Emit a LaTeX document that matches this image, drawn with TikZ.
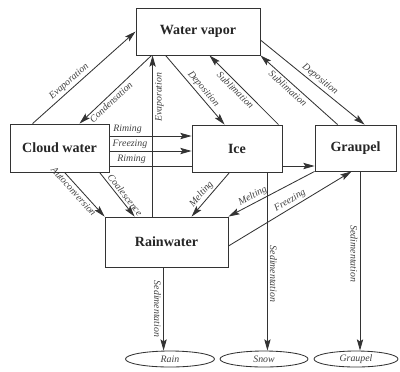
\documentclass[tikz,border=0pt]{standalone}
\usepackage{fontspec}
\setmainfont{Liberation Serif}
\usetikzlibrary{arrows.meta,calc,shapes.geometric}

\begin{document}
\begin{tikzpicture}[>={Stealth[length=8pt,width=4.5pt,inset=1.5pt]},x=0.025cm,y=-0.025cm,line width=0.6pt,draw=black!80,
	box/.style={draw,fill=white,font=\bfseries\fontsize{10}{12}\selectfont,text=black!85},
	drop/.style={draw,ellipse,minimum height=0.4cm,inner sep=0pt,font=\itshape\fontsize{7}{8}\selectfont,text=black!75},
	lbl/.style={font=\itshape\fontsize{7}{8}\selectfont,inner sep=1.5pt,text=black!75}]

\useasboundingbox (0,0) rectangle (400,371);

\node[box,minimum width=3.1cm,minimum height=1.175cm]     (vapor)    at (198,31.5)  {Water vapor};
\node[box,minimum width=2.475cm,minimum height=1.2cm]     (cloud)    at (59.5,148)  {Cloud water};
\node[box,minimum width=2.25cm,minimum height=1.175cm]    (ice)      at (237,148.5) {Ice};
\node[box,minimum width=2.025cm,minimum height=1.15cm]    (graupel)  at (355.5,148) {Graupel};
\node[box,minimum width=3.075cm,minimum height=1.25cm]    (rain)     at (166.5,242) {Rainwater};
\node[drop,minimum width=2.225cm]   (rainfall)   at (170,359)   {Rain};
\node[drop,minimum width=2.2cm]     (snowfall)   at (264,359)   {Snow};
\node[drop,minimum width=2.1cm]     (gfall)      at (356,359)   {Graupel};

% start points of the straight runs
\coordinate (rim1) at ($(cloud.east)+(0,-12)$);
\coordinate (frz1) at ($(cloud.east)+(0,3)$);
\coordinate (rim2) at ($(cloud.east)+(0,18)$);
\coordinate (evp2) at ($(rain.north west)+(48,0)$);
\coordinate (sed1) at ($(rain.south west)+(59,0)$);
\coordinate (sed2) at ($(ice.south east)+(-15,0)$);
\coordinate (sed3) at ($(graupel.south)+(4.5,0)$);

\path[->] ($(cloud.north west)+(23,0)$)  edge  node[lbl,sloped,above,pos=0.4]{Evaporation}  (vapor.west)
			($(vapor.south west)+(16,0)$)  edge  node[lbl,sloped,below,pos=0.62]{Condensation}  ($(cloud.north)+(20,0)$)
			(evp2)  edge  node[lbl,rotate=90,anchor=north,pos=0.74]{Evaporation}  (evp2 |- vapor.south)

			($(vapor.south west)+(30,0)$)  edge  node[lbl,sloped,above,pos=0.55]{Deposition}  ($(ice.north west)+(33,0)$)
			($(ice.north east)+(-4,0)$)  edge  node[lbl,sloped,below,pos=0.56]{Sublimation}  ($(vapor.south east)+(-51,0)$)
			($(graupel.north west)+(23,0)$)  edge  node[lbl,sloped,below,pos=0.59]{Sublimation}  (vapor.south east)
			($(vapor.east)+(0,8.5)$)  edge  node[lbl,sloped,above,pos=0.53]{Deposition}  ($(graupel.north west)+(50,0)$)

			(rim1)  edge  node[lbl,above,pos=0.22]{Riming}  (rim1 -| ice.west)
			(frz1)  edge  node[lbl,above,pos=0.25]{Freezing}  (frz1 -| ice.west)
			(rim2 -| ice.east)  edge  (rim2 -| graupel.west)

			($(cloud.south west)+(55,0)$)  edge  node[lbl,sloped,below,pos=0.34]{Autoconversion}  (rain.north west)
			($(cloud.south west)+(90,0)$)  edge  node[lbl,sloped,above,pos=0.6]{Coalescence}  ($(rain.north west)+(30,0)$)
			($(ice.south west)+(38,0)$)  edge  node[lbl,sloped,above,pos=0.6]{Melting}  ($(rain.north west)+(87,0)$)
			(graupel.south west)  edge  node[lbl,sloped,above,pos=0.68]{Melting}  (rain.north east)
			($(rain.east)+(0,4)$)  edge  node[lbl,sloped,above,pos=0.53]{Freezing}  ($(graupel.south west)+(37,0)$)

			(sed1)  edge  node[lbl,rotate=-90,anchor=north,pos=0.5]{Sedimentation}  (sed1 |- rainfall.north)
			(sed2)  edge  node[lbl,rotate=-90,anchor=south,pos=0.57]{Sedimentation}  (sed2 |- snowfall.north)
			(sed3)  edge  node[lbl,rotate=-90,anchor=north,pos=0.46]{Sedimentation}  (sed3 |- gfall.north);

\draw (rim2) -- node[lbl,above,pos=0.27]{Riming} (rim2 -| ice.west);
\end{tikzpicture}
\end{document}
